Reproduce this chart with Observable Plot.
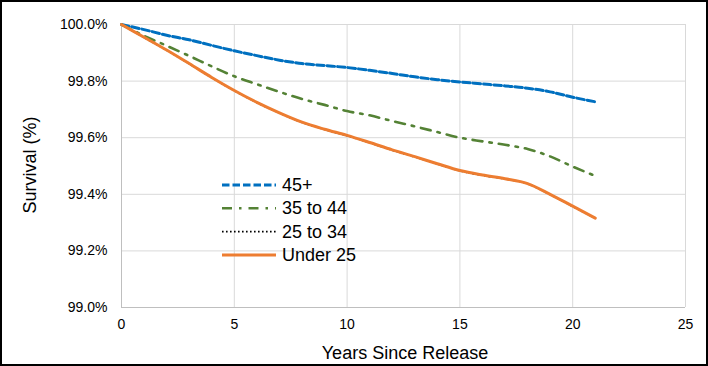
<!DOCTYPE html>
<html><head><meta charset="utf-8">
<script src="https://cdn.jsdelivr.net/npm/d3@7"></script>
<script src="https://cdn.jsdelivr.net/npm/@observablehq/plot@0.6"></script>
<style>
html,body{margin:0;padding:0;background:#fff;}
svg{font-family:"Liberation Sans",Arial,sans-serif;}
</style></head>
<body><div id="chart"></div>
<script>
const years = [0,1,2,3,4,5,6,7,8,9,10,11,12,13,14,15,16,17,18,19,20,21];
const seriesNames = ["45+","35 to 44","25 to 34","Under 25"];
const s45plus = [100,99.982,99.962,99.946,99.926,99.907,99.89,99.874,99.862,99.855,99.848,99.838,99.827,99.815,99.805,99.797,99.79,99.783,99.775,99.762,99.743,99.727];
const s35to44 = [100,99.96,99.925,99.889,99.852,99.817,99.789,99.762,99.737,99.716,99.694,99.679,99.659,99.64,99.62,99.60,99.587,99.575,99.56,99.534,99.498,99.465];
const s25to34 = [100,99.954,99.909,99.861,99.812,99.766,99.724,99.687,99.654,99.629,99.607,99.582,99.556,99.532,99.507,99.483,99.467,99.454,99.437,99.399,99.357,99.315];
const sUnder25 = [100,99.955,99.91,99.862,99.813,99.767,99.725,99.688,99.655,99.63,99.608,99.583,99.557,99.533,99.508,99.484,99.468,99.455,99.438,99.40,99.358,99.316];
const xTicks = [0,5,10,15,20,25];
const yTicks = [99.0,99.2,99.4,99.6,99.8,100.0];

const styles = {
  "45+": {stroke:"#0070C0", width:3, dash:"7.5,3"},
  "35 to 44": {stroke:"#548235", width:2.6, dash:"10,7,2.5,7"},
  "25 to 34": {stroke:"#000000", width:1.6, dash:"1.6,2.4"},
  "Under 25": {stroke:"#ED7D31", width:3, dash:null}
};
const seriesVals = [s45plus, s35to44, s25to34, sUnder25];
const data = seriesNames.map((n,i)=>years.map((y,j)=>({year:y, value:seriesVals[i][j], series:n})));

const lineMarks = seriesNames.map((n,i)=>{
  const st = styles[n];
  return Plot.line(data[i], {x:"year", y:"value", stroke:st.stroke, strokeWidth:st.width, strokeDasharray:st.dash, curve:"monotone-x"});
});

const plot = Plot.plot({
  width:708, height:366,
  marginLeft:121, marginRight:23, marginTop:24, marginBottom:59,
  style:{fontFamily:"'Liberation Sans', Arial, sans-serif", fontSize:"13px", color:"#000", background:"#fff"},
  x:{domain:[0,25], ticks:xTicks},
  y:{domain:[99,100], ticks:yTicks},
  marks:[
    Plot.gridX(xTicks, {stroke:"#d9d9d9", strokeOpacity:1}),
    Plot.gridY(yTicks, {stroke:"#d9d9d9", strokeOpacity:1}),
    Plot.ruleX([0], {stroke:"#bfbfbf"}),
    Plot.ruleY([99], {stroke:"#bfbfbf"}),
    Plot.axisX(xTicks, {tickSize:0, tickPadding:12, label:null, fontSize:14, tickFormat:d=>String(d)}),
    Plot.axisY(yTicks, {tickSize:0, tickPadding:14, label:null, fontSize:14, tickFormat:d=>d.toFixed(1)+"%"}),
    ...lineMarks
  ]
});
document.getElementById("chart").appendChild(plot);

const svg = d3.select(plot);
svg.append("rect").attr("x",1).attr("y",1).attr("width",706).attr("height",364)
  .attr("fill","none").attr("stroke","#000").attr("stroke-width",2);
svg.append("text").attr("x",405).attr("y",359).attr("text-anchor","middle")
  .attr("font-size",18).attr("fill","#000").text("Years Since Release");
svg.append("text").attr("transform","translate(36,165) rotate(-90)").attr("text-anchor","middle")
  .attr("font-size",18).attr("fill","#000").text("Survival (%)");
const lg = svg.append("g");
seriesNames.forEach((n,i)=>{
  const y = 185 + i*23.3;
  const st = styles[n];
  lg.append("line").attr("x1",222).attr("x2",276).attr("y1",y).attr("y2",y)
    .attr("stroke",st.stroke).attr("stroke-width",st.width)
    .attr("stroke-dasharray",st.dash);
  lg.append("text").attr("x",282).attr("y",y+6).attr("text-anchor","start")
    .attr("font-size",18).attr("fill","#000").text(n);
});
</script></body></html>
